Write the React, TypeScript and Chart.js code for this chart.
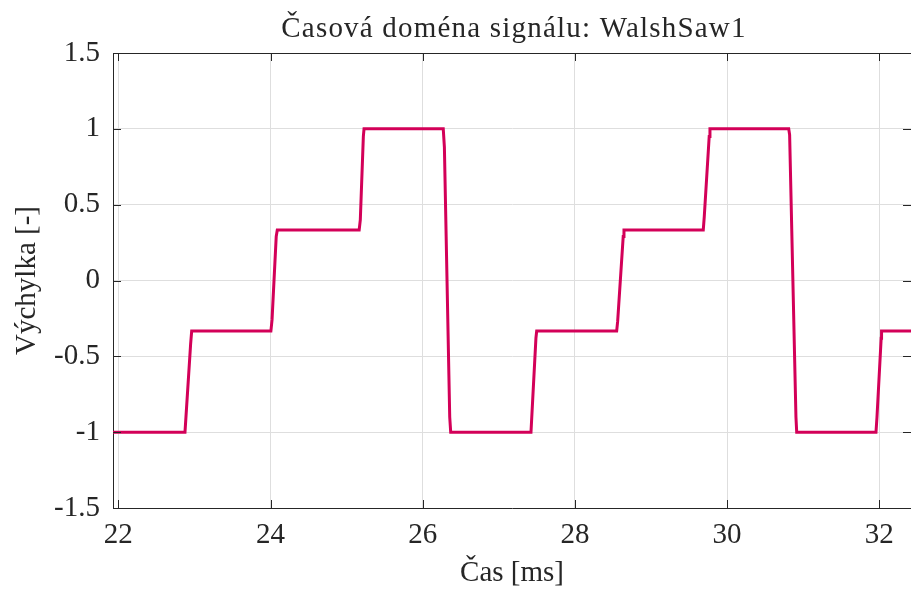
import React, { useEffect, useRef } from "react";
import { Chart, registerables } from "chart.js";

Chart.register(...registerables);

const TITLE = "Časová doména signálu: WalshSaw1";
const X_LABEL = "Čas [ms]";
const Y_LABEL = "Výchylka [-]";

const X_TICKS = [22, 24, 26, 28, 30, 32];
const X_TICK_LABELS = ["22", "24", "26", "28", "30", "32"];
const Y_TICKS = [-1.5, -1, -0.5, 0, 0.5, 1, 1.5];
const Y_TICK_LABELS = ["-1.5", "-1", "-0.5", "0", "0.5", "1", "1.5"];

const X_MIN = 21.93;
const X_MAX = 32.417;
const Y_MIN = -1.5;
const Y_MAX = 1.5;

// signal samples
const TIME_MS = [
  21.9, 22.876, 22.95, 22.964,
  24.005, 24.02, 24.075, 24.089,
  25.165, 25.18, 25.22, 25.229,
  26.27, 26.285, 26.355, 26.368,
  27.423, 27.488, 27.498,
  28.549, 28.562, 28.635, 28.645,
  29.687, 29.7, 29.765, 29.775,
  30.81, 30.822, 30.905, 30.915,
  31.957, 31.97, 32.025, 32.03,
  32.6,
];
const AMPLITUDE = [
  -1, -1, -0.42, -0.3333,
  -0.3333, -0.26, 0.29, 0.3333,
  0.3333, 0.4, 0.95, 1,
  1, 0.88, -0.9, -1,
  -1, -0.38, -0.3333,
  -0.3333, -0.27, 0.29, 0.3333,
  0.3333, 0.42, 0.95, 1,
  1, 0.96, -0.9, -1,
  -1, -0.9, -0.38, -0.3333,
  -0.3333,
];

const TEXT_COLOR = "#262626";
const LINE_COLOR = "#D30058";
const GRID_COLOR = "#dedede";
const FONT_FAMILY = "'Liberation Serif', 'Times New Roman', serif";

export default function App() {
  const canvasRef = useRef<HTMLCanvasElement | null>(null);

  useEffect(() => {
    const canvas = canvasRef.current;
    if (!canvas) return;

    const frame = {
      id: "matlabFrame",
      afterDraw(chart: any) {
        const { ctx, chartArea: a, scales } = chart;
        ctx.save();
        ctx.strokeStyle = TEXT_COLOR;
        ctx.lineWidth = 1;
        ctx.beginPath();
        ctx.moveTo(a.left, Math.round(a.top) + 0.5);
        ctx.lineTo(a.right, Math.round(a.top) + 0.5);
        const tl = 8;
        X_TICKS.forEach((v) => {
          const px = Math.round(scales.x.getPixelForValue(v)) + 0.5;
          ctx.moveTo(px, a.bottom);
          ctx.lineTo(px, a.bottom - tl);
          ctx.moveTo(px, a.top);
          ctx.lineTo(px, a.top + tl);
        });
        Y_TICKS.forEach((v) => {
          const py = Math.round(scales.y.getPixelForValue(v)) + 0.5;
          ctx.moveTo(a.left, py);
          ctx.lineTo(a.left + tl, py);
          ctx.moveTo(a.right, py);
          ctx.lineTo(a.right - tl, py);
        });
        ctx.stroke();
        ctx.fillStyle = TEXT_COLOR;
        ctx.font = `29px ${FONT_FAMILY}`;
        try {
          (ctx as any).letterSpacing = "1.2px";
        } catch (e) {}
        ctx.textAlign = "center";
        ctx.textBaseline = "alphabetic";
        ctx.fillText(TITLE, (a.left + a.right) / 2 + 2, 37);
        ctx.restore();
      },
    };

    const chart = new Chart(canvas, {
      type: "line",
      data: {
        datasets: [
          {
            data: TIME_MS.map((t, i) => ({ x: t, y: AMPLITUDE[i] })),
            borderColor: LINE_COLOR,
            borderWidth: 3,
            pointRadius: 0,
            tension: 0,
            fill: false,
            clip: 0,
          },
        ],
      },
      options: {
        responsive: false,
        animation: false,
        devicePixelRatio: 1,
        layout: { padding: { top: 53, left: 0, right: 0, bottom: 0 } },
        plugins: {
          legend: { display: false },
          tooltip: { enabled: false },
          title: { display: false },
        },
        scales: {
          x: {
            type: "linear",
            min: X_MIN,
            max: X_MAX,
            afterBuildTicks: (scale: any) => {
              scale.ticks = X_TICKS.map((v) => ({ value: v }));
            },
            afterFit: (scale: any) => {
              scale.height = 86;
            },
            ticks: {
              color: TEXT_COLOR,
              font: { family: FONT_FAMILY, size: 29 },
              padding: 10,
              maxRotation: 0,
              autoSkip: false,
              callback: (v: any) => {
                const i = X_TICKS.indexOf(Number(v));
                return i >= 0 ? X_TICK_LABELS[i] : "";
              },
            },
            grid: { color: GRID_COLOR, lineWidth: 1, drawTicks: false },
            border: { display: true, color: TEXT_COLOR, width: 1 },
            title: {
              display: true,
              text: X_LABEL,
              color: TEXT_COLOR,
              font: { family: FONT_FAMILY, size: 29 },
              padding: { top: 0, bottom: 3 },
            },
          },
          y: {
            type: "linear",
            min: Y_MIN,
            max: Y_MAX,
            afterBuildTicks: (scale: any) => {
              scale.ticks = Y_TICKS.map((v) => ({ value: v }));
            },
            afterFit: (scale: any) => {
              scale.width = 113;
            },
            ticks: {
              color: TEXT_COLOR,
              font: { family: FONT_FAMILY, size: 29 },
              padding: 13,
              autoSkip: false,
              callback: (v: any) => {
                const i = Y_TICKS.indexOf(Number(v));
                return i >= 0 ? Y_TICK_LABELS[i] : "";
              },
            },
            grid: { color: GRID_COLOR, lineWidth: 1, drawTicks: false },
            border: { display: true, color: TEXT_COLOR, width: 1 },
            title: {
              display: true,
              text: Y_LABEL,
              color: TEXT_COLOR,
              font: { family: FONT_FAMILY, size: 29 },
              padding: { top: 10, bottom: 0 },
            },
          },
        },
      },
      plugins: [frame],
    });

    return () => {
      chart.destroy();
    };
  }, []);

  return (
    <div style={{ position: "fixed", left: 0, top: 0, width: 911, height: 594, background: "#fff" }}>
      <canvas ref={canvasRef} width={911} height={594} style={{ display: "block" }} />
    </div>
  );
}
